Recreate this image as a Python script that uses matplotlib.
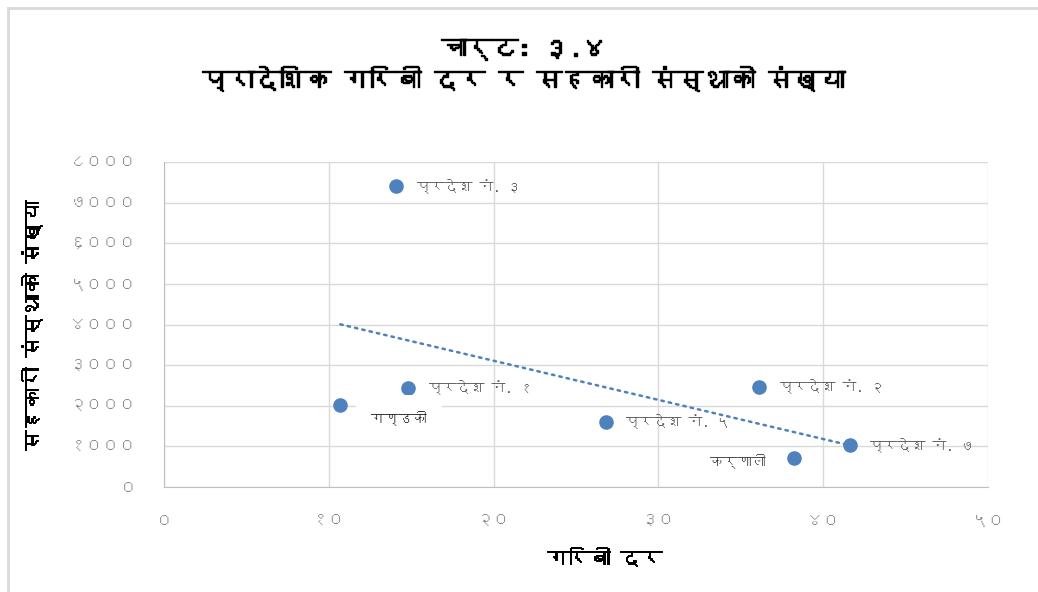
import numpy as np
import matplotlib
matplotlib.use("Agg")
import matplotlib.pyplot as plt
import matplotlib.patheffects as pe
from matplotlib import font_manager
from matplotlib.ft2font import FT2Font

# प्रदेश अनुसार गरिबी दर (%) र सहकारी संस्थाको संख्या
provinces = ["प्रदेश नं. १", "प्रदेश नं. २", "प्रदेश नं. ३", "प्रदेश नं. ५",
             "गण्डकी", "कर्णाली", "प्रदेश नं. ७"]
poverty_rate = [14.8, 36.1, 14.1, 26.8, 10.7, 38.2, 41.6]
coop_count = [2440, 2470, 7400, 1600, 2020, 720, 1030]

x_ticks = [0, 10, 20, 30, 40, 50]
y_ticks = [0, 1000, 2000, 3000, 4000, 5000, 6000, 7000, 8000]

title_text = "चार्ट: ३.४\nप्रादेशिक गरिबी दर र सहकारी संस्थाको संख्या"
x_label = "गरिबी दर"
y_label = "सहकारी संस्थाको संख्या"

DEV_DIGITS = str.maketrans("0123456789", "०१२३४५६७८९")


def to_nepali(n):
    return str(n).translate(DEV_DIGITS)


def find_devanagari_font():
    # कुनै फन्टमा देवनागरी अक्षर छ कि छैन हेर्ने
    for f in font_manager.fontManager.ttflist:
        try:
            cmap = FT2Font(f.fname).get_charmap()
        except Exception:
            continue
        if 0x0915 in cmap and 0x0967 in cmap:
            return f.name
    return None


dev_font = find_devanagari_font()
families = [dev_font, "DejaVu Sans"] if dev_font else ["DejaVu Sans"]
plt.rcParams["font.family"] = families

# फन्टमा bold नभएकाले पातलो किनारा थपेर मोटो देखाउने
heavy = [pe.withStroke(linewidth=1.0, foreground="black")]
medium = [pe.withStroke(linewidth=0.7, foreground="black")]

fig = plt.figure(figsize=(10.38, 5.92), dpi=100)
fig.patch.set_facecolor("white")

# चार्टको बाहिरी किनारा
fig.add_artist(plt.Line2D([8 / 1038, 8 / 1038], [0, 1 - 8 / 592],
                          transform=fig.transFigure, color="#d9d9d9", lw=2))
fig.add_artist(plt.Line2D([8 / 1038, 1], [1 - 8 / 592, 1 - 8 / 592],
                          transform=fig.transFigure, color="#d9d9d9", lw=2))

ax = fig.add_axes([164 / 1038, 1 - 487 / 592, 824 / 1038, 325 / 592])

ax.scatter(poverty_rate, coop_count, s=90, color="#4f81bd", zorder=3)

# रेखीय ट्रेन्डलाइन
coef = np.polyfit(poverty_rate, coop_count, 1)
xs = np.array([min(poverty_rate), max(poverty_rate)])
ax.plot(xs, np.polyval(coef, xs), linestyle=(0, (1, 2)), color="#4f81bd",
        lw=1.8, dash_capstyle="round", zorder=2)

for name, xv, yv in zip(provinces, poverty_rate, coop_count):
    if name == "गण्डकी":
        ax.annotate(name, (xv, yv), xytext=(22, -9), textcoords="offset points",
                    ha="left", va="center", fontsize=10, color="#262626",
                    bbox=dict(boxstyle="square,pad=1.1", fc="white", ec="none"))
    elif name == "कर्णाली":
        ax.annotate(name, (xv, yv), xytext=(-20, -2), textcoords="offset points",
                    ha="right", va="center", fontsize=10, color="#404040")
    else:
        ax.annotate(name, (xv, yv), xytext=(15, 0), textcoords="offset points",
                    ha="left", va="center", fontsize=10, color="#595959")

ax.set_xlim(0, 50)
ax.set_ylim(0, 8000)
ax.set_xticks(x_ticks)
ax.set_yticks(y_ticks)
ax.set_xticklabels([to_nepali(v) for v in x_ticks])
ax.set_yticklabels([to_nepali(v) for v in y_ticks])
ax.tick_params(length=0, labelsize=12, labelcolor="#8c8c8c")
ax.tick_params(axis="x", pad=20)
ax.tick_params(axis="y", pad=20)

ax.grid(True, color="#d9d9d9", lw=1)
ax.set_axisbelow(True)
for side in ["top", "right"]:
    ax.spines[side].set_visible(False)
for side in ["left", "bottom"]:
    ax.spines[side].set_color("#bfbfbf")

ax.set_xlabel(x_label, fontsize=15, path_effects=medium)
ax.set_ylabel(y_label, fontsize=15, path_effects=medium)
ax.xaxis.set_label_coords(0.535, -0.19)
ax.yaxis.set_label_coords(-0.148, 0.498)

fig.text(0.505, 0.935, title_text, ha="center", va="top", fontsize=18.5,
         linespacing=1.25, path_effects=heavy)

fig.savefig("out.png", dpi=100, facecolor="white")
